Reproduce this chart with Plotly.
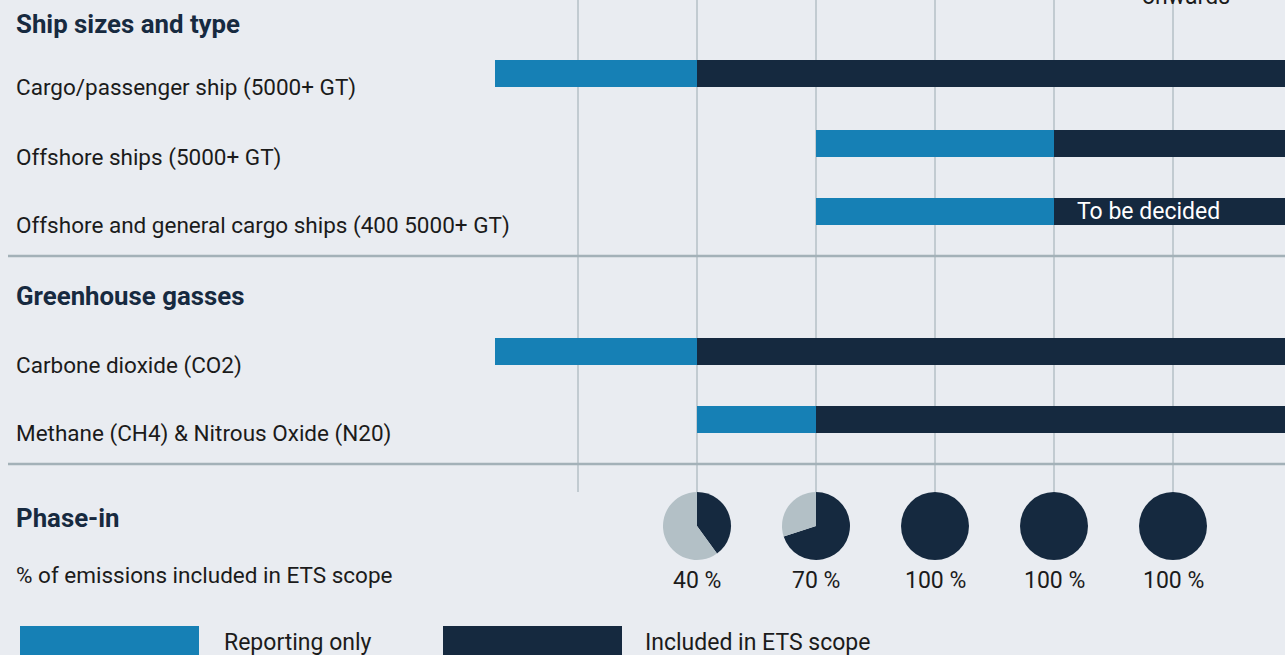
import plotly.graph_objects as go

# ---------------- data ----------------
rows = [
    "Cargo/passenger ship (5000+ GT)",
    "Offshore ships (5000+ GT)",
    "Offshore and general cargo ships (400 5000+ GT)",
    "Carbone dioxide (CO2)",
    "Methane (CH4) & Nitrous Oxide (N20)",
]
report_start = [2022.3, 2025, 2025, 2022.3, 2024]
report_end = [2024, 2027, 2027, 2024, 2025]
included_end = [2029, 2029, 2029, 2029, 2029]
included_text = ["", "", "To be decided", "", ""]

grid_years = [2023, 2024, 2025, 2026, 2027, 2028]
phase_years = [2024, 2025, 2026, 2027, 2028]
phase_pct = [40, 70, 100, 100, 100]
phase_labels = ["40 %", "70 %", "100 %", "100 %", "100 %"]

sections = ["Ship sizes and type", "Greenhouse gasses", "Phase-in"]
phase_caption = "% of emissions included in ETS scope"
legend_names = ["Reporting only", "Included in ETS scope"]

# ---------------- style / layout ----------------
W, H = 1285, 655
BG = "#E9ECF1"
BLUE = "#1680B5"
NAVY = "#15293F"
LIGHT = "#B3C0C6"
GRID = "#B4C0C6"
SEP = "#A3B1B8"
TXT = "#1b1b1b"
FONT = "Roboto"
LBL = 22.5
SMALL = 23
HEAD = 25.8
LEFT = 14 / W

# x axis: years, 2024 at px 697, 119 px per year
PX_2024, PX_YEAR = 697, 119
x_lo = 2024 - PX_2024 / PX_YEAR
x_hi = 2024 + (W - PX_2024) / PX_YEAR


def xpaper(year):
    return (year - x_lo) / (x_hi - x_lo)


row_y = [73, 143.5, 211.5, 351.5, 419.5]
bar_h = 27
section_y = [24, 296, 518]
pie_cy, pie_r = 526, 34

fig = go.Figure()

fig.add_trace(go.Bar(
    y=row_y, base=report_start,
    x=[e - s for s, e in zip(report_start, report_end)],
    orientation="h", width=bar_h, marker=dict(color=BLUE, line=dict(width=0)),
    name=legend_names[0], showlegend=False, hoverinfo="skip",
))
fig.add_trace(go.Bar(
    y=row_y, base=report_end,
    x=[e - s for s, e in zip(report_end, included_end)],
    orientation="h", width=bar_h, marker=dict(color=NAVY, line=dict(width=0)),
    name=legend_names[1], showlegend=False, hoverinfo="skip",
))

shapes = []
annotations = []

# vertical grid lines (year columns)
for yr in grid_years:
    shapes.append(dict(type="line", xref="x", yref="y", x0=yr, x1=yr, y0=-5, y1=492,
                       line=dict(color=GRID, width=1.5), layer="below"))
# section separators
for sy in [256, 464]:
    shapes.append(dict(type="line", xref="paper", yref="y", x0=8 / W, x1=1, y0=sy, y1=sy,
                       line=dict(color=SEP, width=2.5), layer="above"))

# section headings
for txt, sy in zip(sections, section_y):
    annotations.append(dict(text=f"<b>{txt}</b>", x=LEFT, xref="paper", y=sy, yref="y",
                            xanchor="left", yanchor="middle", showarrow=False,
                            font=dict(family=FONT, size=HEAD, color="#172A40")))
# row labels
for lab, ry in zip(rows, row_y):
    annotations.append(dict(text=lab, x=LEFT, xref="paper", y=ry + 14, yref="y",
                            xanchor="left", yanchor="middle", showarrow=False,
                            font=dict(family=FONT, size=LBL, color=TXT)))
# text inside bars
for t, s, ry in zip(included_text, report_end, row_y):
    if t:
        annotations.append(dict(text=t, x=s, xref="x", y=ry, yref="y", xshift=21,
                                xanchor="left", yanchor="middle", showarrow=False,
                                font=dict(family=FONT, size=SMALL, color="white")))
# phase caption
annotations.append(dict(text=phase_caption, x=LEFT, xref="paper", y=575, yref="y",
                        xanchor="left", yanchor="middle", showarrow=False,
                        font=dict(family=FONT, size=LBL, color=TXT)))
# "onwards" header text (cut off at top, as in the original)
annotations.append(dict(text="onwards", x=2028 + 13 / PX_YEAR, xref="x", y=12, yref="y",
                        xanchor="center", yanchor="bottom", showarrow=False,
                        font=dict(family=FONT, size=SMALL, color=TXT)))

# pies
for yr, pct, lab in zip(phase_years, phase_pct, phase_labels):
    cx = xpaper(yr)
    cy = 1 - pie_cy / H
    fig.add_trace(go.Pie(
        values=[pct, 100 - pct], marker=dict(colors=[NAVY, LIGHT], line=dict(width=0)),
        sort=False, direction="clockwise", rotation=0, textinfo="none",
        hoverinfo="skip", showlegend=False,
        domain=dict(x=[cx - pie_r / W, cx + pie_r / W], y=[cy - pie_r / H, cy + pie_r / H]),
    ))
    annotations.append(dict(text=lab, x=yr, xref="x", y=580, yref="y",
                            xanchor="center", yanchor="middle", showarrow=False,
                            font=dict(family=FONT, size=SMALL, color=TXT)))

# legend (bottom, custom)
legend_boxes = [(20, 199, BLUE, 222), (443, 622, NAVY, 643)]
for (x0, x1, col, tx), name in zip(legend_boxes, legend_names):
    shapes.append(dict(type="rect", xref="paper", yref="y", x0=x0 / W, x1=x1 / W,
                       y0=626, y1=670, fillcolor=col, line=dict(width=0), layer="above"))
    annotations.append(dict(text=name, x=tx / W, xref="paper", y=642, yref="y",
                            xanchor="left", yanchor="middle", showarrow=False,
                            font=dict(family=FONT, size=SMALL, color=TXT)))

fig.update_layout(
    width=W, height=H, margin=dict(l=0, r=0, t=0, b=0),
    paper_bgcolor=BG, plot_bgcolor=BG, barmode="overlay", bargap=0,
    xaxis=dict(range=[x_lo, x_hi], visible=False, showgrid=False, zeroline=False, fixedrange=True),
    yaxis=dict(range=[H, 0], visible=False, showgrid=False, zeroline=False, fixedrange=True),
    shapes=shapes, annotations=annotations, showlegend=False,
)

fig.write_html("out.html", config={"displayModeBar": False})
